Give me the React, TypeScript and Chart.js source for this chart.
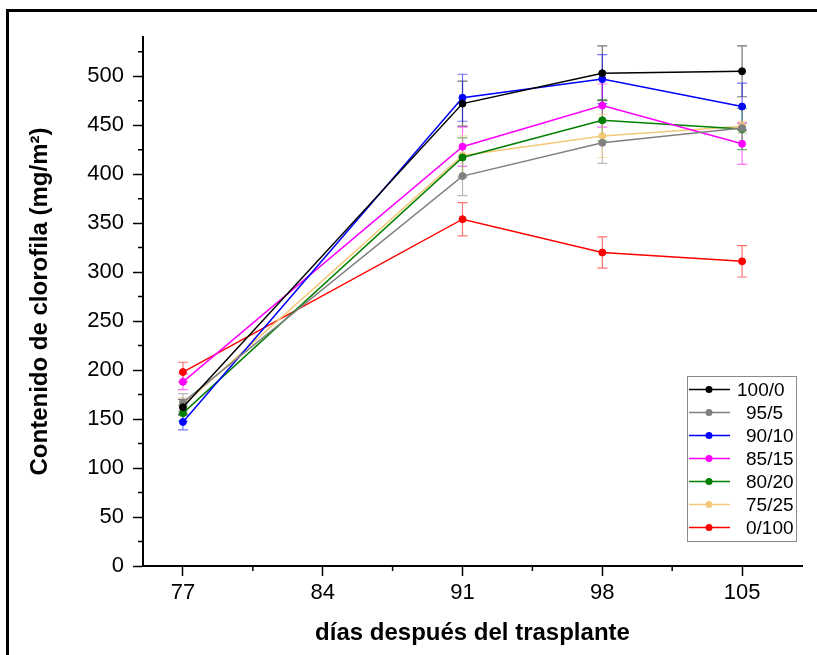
import React, { useEffect, useRef } from "react";
import { Chart, registerables } from "chart.js";

Chart.register(...registerables);

const FONT = "Arial, 'Liberation Sans', Helvetica, sans-serif";

// ---- data ----
const days = [77, 91, 98, 105];
const xTickValues = [77, 84, 91, 98, 105];
const xMinorValues = [80.5, 87.5, 94.5, 101.5];
const yTickValues = [0, 50, 100, 150, 200, 250, 300, 350, 400, 450, 500];
const yMinorValues = [25, 75, 125, 175, 225, 275, 325, 375, 425, 475, 525];

const seriesLabels = ["100/0", "95/5", "90/10", "85/15", "80/20", "75/25", "0/100"];
const seriesColors = ["#000000", "#808080", "#0000ff", "#ff00ff", "#008000", "#f2c879", "#ff0000"];

const v100_0 = [162, 472, 503, 505];
const v95_5 = [167, 398, 432, 447];
const v90_10 = [147, 478, 497, 469];
const v85_15 = [188, 428, 470, 431];
const v80_20 = [156, 417, 455, 446];
const v75_25 = [164, 419, 439, 449];
const v0_100 = [198, 354, 320, 311];

const e100_0 = [8, 23, 28, 26];
const e95_5 = [9, 20, 21, 5];
const e90_10 = [8, 24, 25, 24];
const e85_15 = [8, 20, 22, 21];
const e80_20 = [8, 20, 21, 21];
const e75_25 = [8, 20, 22, 5];
const e0_100 = [10, 17, 16, 16];

const seriesValues = [v100_0, v95_5, v90_10, v85_15, v80_20, v75_25, v0_100];
const seriesErrors = [e100_0, e95_5, e90_10, e85_15, e80_20, e75_25, e0_100];

function rgba(hex: string, a: number) {
  const n = parseInt(hex.slice(1), 16);
  return `rgba(${(n >> 16) & 255},${(n >> 8) & 255},${n & 255},${a})`;
}

const errorBarPlugin = {
  id: "errorBars",
  beforeDatasetsDraw(chart: any) {
    const { ctx, scales } = chart;
    const x = scales.x;
    const y = scales.y;
    seriesValues.forEach((vals, si) => {
      const errs = seriesErrors[si];
      ctx.save();
      ctx.strokeStyle = rgba(seriesColors[si], 0.55);
      ctx.lineWidth = 1.2;
      days.forEach((d, i) => {
        const px = x.getPixelForValue(d);
        const top = y.getPixelForValue(vals[i] + errs[i]);
        const bot = y.getPixelForValue(vals[i] - errs[i]);
        ctx.beginPath();
        ctx.moveTo(px, top);
        ctx.lineTo(px, bot);
        ctx.moveTo(px - 5, top);
        ctx.lineTo(px + 5, top);
        ctx.moveTo(px - 5, bot);
        ctx.lineTo(px + 5, bot);
        ctx.stroke();
      });
      ctx.restore();
    });
  },
};

const minorTickPlugin = {
  id: "minorTicks",
  afterDraw(chart: any) {
    const { ctx, scales, chartArea } = chart;
    ctx.save();
    ctx.strokeStyle = "#000";
    ctx.lineWidth = 1.5;
    ctx.beginPath();
    xMinorValues.forEach((v) => {
      const px = scales.x.getPixelForValue(v);
      ctx.moveTo(px, chartArea.bottom);
      ctx.lineTo(px, chartArea.bottom + 5);
    });
    yMinorValues.forEach((v) => {
      const py = scales.y.getPixelForValue(v);
      ctx.moveTo(chartArea.left - 5, py);
      ctx.lineTo(chartArea.left, py);
    });
    ctx.stroke();
    ctx.restore();
  },
};

const legendPlugin = {
  id: "boxLegend",
  afterDraw(chart: any) {
    const { ctx } = chart;
    const bx = 687, by = 376, bw = 109, bh = 165;
    ctx.save();
    ctx.strokeStyle = "#8a8a8a";
    ctx.lineWidth = 1;
    ctx.strokeRect(bx + 0.5, by + 0.5, bw, bh);
    ctx.font = `19px ${FONT}`;
    ctx.textBaseline = "middle";
    ctx.textAlign = "left";
    seriesLabels.forEach((lab, i) => {
      const cy = by + 13.5 + i * 23;
      ctx.strokeStyle = seriesColors[i];
      ctx.lineWidth = 1.5;
      ctx.beginPath();
      ctx.moveTo(bx + 2, cy);
      ctx.lineTo(bx + 43, cy);
      ctx.stroke();
      ctx.fillStyle = seriesColors[i];
      ctx.beginPath();
      ctx.arc(bx + 22, cy, 3.5, 0, Math.PI * 2);
      ctx.fill();
      ctx.fillStyle = "#000";
      ctx.fillText(lab, lab.startsWith("100") ? 737 : 746, cy + 1);
    });
    ctx.restore();
  },
};

export default function App() {
  const ref = useRef<HTMLCanvasElement>(null);
  useEffect(() => {
    if (!ref.current) return;
    const chart = new Chart(ref.current, {
      type: "line",
      data: {
        datasets: seriesValues.map((vals, si) => ({
          label: seriesLabels[si],
          data: days.map((d, i) => ({ x: d, y: vals[i] })),
          borderColor: seriesColors[si],
          backgroundColor: seriesColors[si],
          borderWidth: 1.5,
          pointRadius: 3.5,
          pointBorderWidth: 1,
          pointBackgroundColor: seriesColors[si],
          tension: 0,
          fill: false,
        })),
      },
      options: {
        responsive: false,
        animation: false,
        devicePixelRatio: 1,
        layout: { padding: { left: 0, right: 15, top: 37, bottom: 0 } },
        plugins: {
          legend: { display: false },
          tooltip: { enabled: false },
        },
        scales: {
          x: {
            type: "linear",
            min: 75,
            max: 108,
            afterBuildTicks: (s: any) => {
              s.ticks = xTickValues.map((v) => ({ value: v }));
            },
            afterFit: (s: any) => {
              s.height = 89;
            },
            border: { display: true, color: "#000", width: 2 },
            grid: { drawOnChartArea: false, drawTicks: true, tickLength: 10, tickWidth: 1.5, tickColor: "#000" },
            ticks: { color: "#000", font: { family: FONT, size: 22 }, padding: 4, maxRotation: 0, autoSkip: false },
            title: {
              display: true,
              text: "días después del trasplante",
              color: "#000",
              font: { family: FONT, size: 24, weight: "bold" },
              padding: { top: 0, bottom: 7 },
            },
          },
          y: {
            type: "linear",
            min: 0,
            max: 540,
            afterBuildTicks: (s: any) => {
              s.ticks = yTickValues.map((v) => ({ value: v }));
            },
            afterFit: (s: any) => {
              s.width = 143;
            },
            border: { display: true, color: "#000", width: 2 },
            grid: { drawOnChartArea: false, drawTicks: true, tickLength: 10, tickWidth: 1.5, tickColor: "#000" },
            ticks: { color: "#000", font: { family: FONT, size: 22 }, padding: 9 },
            title: {
              display: true,
              text: "Contenido de clorofila (mg/m²)",
              color: "#000",
              font: { family: FONT, size: 24, weight: "bold" },
              padding: { top: 25.6, bottom: 0 },
            },
          },
        },
      } as any,
      plugins: [errorBarPlugin, minorTickPlugin, legendPlugin],
    });
    return () => chart.destroy();
  }, []);

  return (
    <div style={{ position: "fixed", left: 0, top: 0, width: 817, height: 655, background: "#fff" }}>
      <canvas ref={ref} width={817} height={655} style={{ position: "absolute", left: 0, top: 0 }} />
      <div
        style={{
          position: "absolute",
          left: 6,
          top: 9,
          right: 0,
          bottom: 0,
          borderTop: "3px solid #000",
          borderLeft: "3px solid #000",
          pointerEvents: "none",
        }}
      />
    </div>
  );
}
